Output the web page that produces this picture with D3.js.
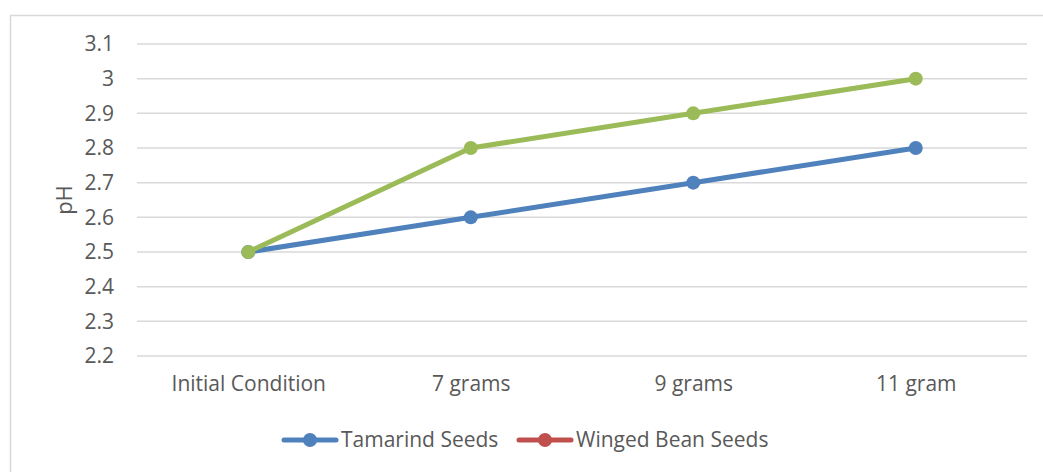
<!DOCTYPE html>
<html>
<head>
<meta charset="utf-8">
<script src="https://cdnjs.cloudflare.com/ajax/libs/d3/7.8.5/d3.min.js"></script>
<style>
  body { margin: 0; background: #fff; }
  svg text { font-family: "Open Sans", "Noto Sans", sans-serif; fill: #595959; }
</style>
</head>
<body>
<div id="chart"></div>
<script>
// data
var categories = ["Initial Condition", "7 grams", "9 grams", "11 gram"];
var tamarind = [2.5, 2.6, 2.7, 2.8];
var wingedBean = [2.5, 2.8, 2.9, 3.0];   // hidden under the green line
var thirdSeries = [2.5, 2.8, 2.9, 3.0];  // green, no legend entry
var yTicks = [2.2, 2.3, 2.4, 2.5, 2.6, 2.7, 2.8, 2.9, 3, 3.1];

var width = 1043, height = 472;
var plot = {left: 137, right: 1027, top: 44, bottom: 356};

var svg = d3.select("#chart").append("svg")
    .attr("width", width)
    .attr("height", height);

// chart frame (cut at right/bottom like the reference)
svg.append("path")
    .attr("d", "M10.5," + height + "V15.5H" + width)
    .attr("fill", "none")
    .attr("stroke", "#d9d9d9")
    .attr("stroke-width", 1.5);

var x = d3.scalePoint()
    .domain(categories)
    .range([plot.left, plot.right])
    .padding(0.5);

var y = d3.scaleLinear()
    .domain([2.2, 3.1])
    .range([plot.bottom, plot.top]);

// gridlines
svg.append("g")
    .selectAll("line")
    .data(yTicks)
    .enter().append("line")
    .attr("x1", plot.left)
    .attr("x2", plot.right)
    .attr("y1", function(d){ return y(d); })
    .attr("y2", function(d){ return y(d); })
    .attr("stroke", "#d9d9d9")
    .attr("stroke-width", 1.5);

// y axis labels
var yAxis = d3.axisLeft(y).tickValues(yTicks).tickSize(0).tickPadding(0)
    .tickFormat(function(d){ return String(+d.toFixed(1)); });
var gy = svg.append("g")
    .attr("transform", "translate(114,0)")
    .call(yAxis);
gy.select(".domain").remove();
gy.selectAll("text")
    .style("font-size", "21px")
    .attr("fill", "#595959");

// x axis labels
var xAxis = d3.axisBottom(x).tickSize(0).tickPadding(0);
var gx = svg.append("g")
    .attr("transform", "translate(0,376)")
    .call(xAxis);
gx.select(".domain").remove();
gx.selectAll("text")
    .style("font-size", "21px")
    .attr("fill", "#595959");

// y title
svg.append("text")
    .attr("transform", "translate(72,200) rotate(-90)")
    .attr("text-anchor", "middle")
    .style("font-size", "22px")
    .text("pH");

var line = d3.line()
    .x(function(d, i){ return x(categories[i]); })
    .y(function(d){ return y(d); });

function drawSeries(values, color, w, r) {
    var g = svg.append("g");
    g.append("path")
        .datum(values)
        .attr("d", line)
        .attr("fill", "none")
        .attr("stroke", color)
        .attr("stroke-width", w)
        .attr("stroke-linejoin", "round")
        .attr("stroke-linecap", "round");
    g.selectAll("circle")
        .data(values)
        .enter().append("circle")
        .attr("cx", function(d, i){ return x(categories[i]); })
        .attr("cy", function(d){ return y(d); })
        .attr("r", r)
        .attr("fill", color);
}

drawSeries(tamarind, "#4f81bd", 5, 7);
drawSeries(wingedBean, "#c0504d", 3, 5);
drawSeries(thirdSeries, "#9bbb59", 5, 7);

// legend
var legend = [
    {name: "Tamarind Seeds", color: "#4f81bd", x: 284},
    {name: "Winged Bean Seeds", color: "#c0504d", x: 519}
];
var lg = svg.selectAll(".legend").data(legend).enter().append("g")
    .attr("class", "legend")
    .attr("transform", function(d){ return "translate(" + d.x + ",440)"; });
lg.append("line")
    .attr("x1", 0).attr("x2", 52)
    .attr("stroke", function(d){ return d.color; })
    .attr("stroke-width", 5)
    .attr("stroke-linecap", "round");
lg.append("circle")
    .attr("cx", 26)
    .attr("r", 7)
    .attr("fill", function(d){ return d.color; });
lg.append("text")
    .attr("x", 57)
    .attr("dy", "0.35em")
    .style("font-size", "21px")
    .text(function(d){ return d.name; });
</script>
</body>
</html>
